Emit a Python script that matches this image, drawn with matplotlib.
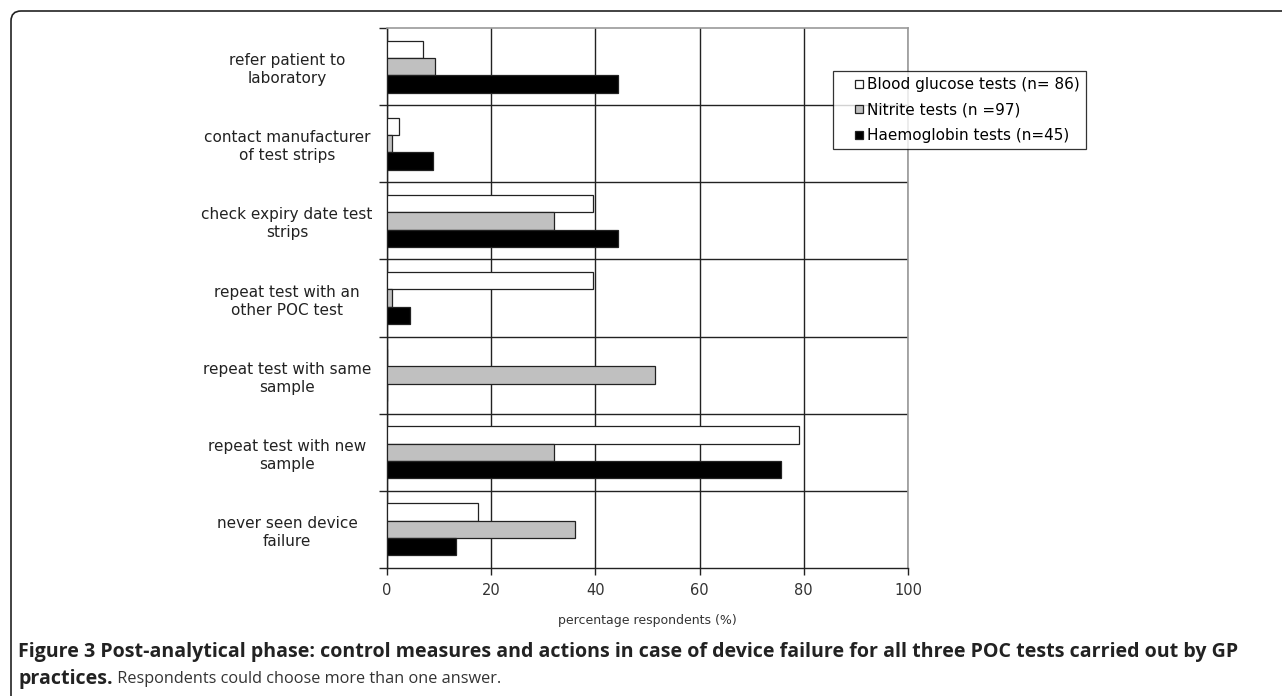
import numpy as np
import matplotlib
matplotlib.use("Agg")
import matplotlib.pyplot as plt
from matplotlib.patches import FancyBboxPatch, Rectangle
from matplotlib.legend_handler import HandlerPatch, update_from_first_child
from matplotlib.container import BarContainer
from matplotlib import font_manager as fm

categories = [
    "refer patient to\nlaboratory",
    "contact manufacturer\nof test strips",
    "check expiry date test\nstrips",
    "repeat test with an\nother POC test",
    "repeat test with same\nsample",
    "repeat test with new\nsample",
    "never seen device\nfailure",
]
series_names = [
    "Blood glucose tests (n= 86)",
    "Nitrite tests (n =97)",
    "Haemoglobin tests (n=45)",
]
glucose = [7.0, 2.3, 39.5, 39.5, 0.0, 79.1, 17.4]
nitrite = [9.3, 1.0, 32.0, 1.0, 51.5, 32.0, 36.1]
haemoglobin = [44.4, 8.9, 44.4, 4.4, 0.0, 75.6, 13.3]
xticks = [0, 20, 40, 60, 80, 100]
xlabel = "percentage respondents (%)"
caption_bold1 = "Figure 3 Post-analytical phase: control measures and actions in case of device failure for all three POC tests carried out by GP"
caption_bold2 = "practices."
caption_rest = " Respondents could choose more than one answer."

colors = ["#ffffff", "#c0c0c0", "#000000"]


def wnum(w):
    if isinstance(w, (int, float)):
        return w
    return {"bold": 700, "normal": 400, "regular": 400, "semibold": 600,
            "demibold": 600, "heavy": 800, "black": 900}.get(str(w).lower(), 400)


def bold_font():
    for fam in ["Open Sans", "Noto Sans", "Lato", "Liberation Sans", "DejaVu Sans"]:
        for f in fm.fontManager.ttflist:
            if (f.name == fam and f.style == "normal" and wnum(f.weight) == 700
                    and "ondensed" not in f.fname and str(f.stretch) in ("normal", "400")):
                return fm.FontProperties(fname=f.fname)
    return fm.FontProperties(family="DejaVu Sans", weight="bold")


W, H = 1282, 696
fig = plt.figure(figsize=(W / 100, H / 100), dpi=100)
ax_left, ax_right, ax_top, ax_bot = 387, 908, 28, 568
ax = fig.add_axes([ax_left / W, 1 - ax_bot / H, (ax_right - ax_left) / W, (ax_bot - ax_top) / H])

y = np.arange(len(categories))
h = 0.225
for k, (vals, col, name) in enumerate(zip([glucose, nitrite, haemoglobin], colors, series_names)):
    ax.barh(y + (k - 1) * h, vals, height=h, color=col, edgecolor="#222222",
            linewidth=0.9, label=name, zorder=3)

ax.set_xlim(0, 100)
ax.set_ylim(len(categories) - 0.5, -0.5)
ax.set_xticks(xticks)
ax.set_xticklabels([str(t) for t in xticks], fontsize=10.5, color="#333333")
ax.set_yticks(y)
ax.set_yticklabels(categories, fontsize=11, color="#222222", ha="center",
                   multialignment="center", linespacing=1.25)
ax.tick_params(axis="y", which="major", length=0, pad=72)
ax.set_yticks(np.arange(-0.5, len(categories), 1), minor=True)
ax.tick_params(axis="y", which="minor", length=6, width=1, color="#222222", direction="out")
ax.tick_params(axis="x", which="major", length=5, width=1, color="#222222", direction="out", pad=5.5)

ax.grid(axis="x", which="major", color="#222222", linewidth=1, zorder=1)
for b in np.arange(0.5, len(categories) - 0.5, 1):
    ax.axhline(b, color="#222222", linewidth=1, zorder=1)

for s in ["left", "bottom"]:
    ax.spines[s].set_color("#222222")
    ax.spines[s].set_linewidth(1)
for s in ["top", "right"]:
    ax.spines[s].set_color("#999999")
    ax.spines[s].set_linewidth(1.2)

ax.set_xlabel(xlabel, fontsize=9, color="#333333", labelpad=12)


def small_square(legend, orig_handle, xdescent, ydescent, width, height, fontsize):
    s = 5.8
    return Rectangle((width - s - xdescent, (height - s) / 2 - ydescent), s, s)


sq_handler = HandlerPatch(patch_func=small_square, update_func=update_from_first_child)
leg = fig.legend(loc="upper left", bbox_to_anchor=(833 / W, 1 - 71 / H),
                 fontsize=11, frameon=True, fancybox=False, edgecolor="#000000",
                 handlelength=1.57, handleheight=0.7, handletextpad=0.26,
                 labelspacing=0.68, borderpad=0.4, borderaxespad=0,
                 handler_map={BarContainer: sq_handler})
leg.get_frame().set_linewidth(0.9)

# outer rounded frame
frame = FancyBboxPatch((0.11, -0.6), 13.2, 0.6 + 6.85, boxstyle="round,pad=0,rounding_size=0.1",
                       transform=fig.dpi_scale_trans, facecolor="none", edgecolor="#222222",
                       linewidth=1.2, clip_on=False)
fig.patches.append(frame)

cap_y1, cap_y2 = 652, 679
bfp = bold_font()
bfp.set_size(12)
t1 = fig.text(18 / W, 1 - cap_y1 / H, caption_bold1, fontproperties=bfp,
              va="center", ha="left", color="#222222")
fig.canvas.draw()
w1 = t1.get_window_extent().width
size = 12 * (1236 - 18) / w1
bfp.set_size(size)
t1.set_fontproperties(bfp)
t2 = fig.text(18 / W, 1 - cap_y2 / H, caption_bold2, fontproperties=bfp,
              va="center", ha="left", color="#222222")
fig.canvas.draw()
bb = t2.get_window_extent()
fig.text(bb.x1 / W, 1 - cap_y2 / H, caption_rest, family="Open Sans",
         fontsize=11.7, va="center", ha="left", color="#333333")

fig.savefig("out.png", dpi=100)
